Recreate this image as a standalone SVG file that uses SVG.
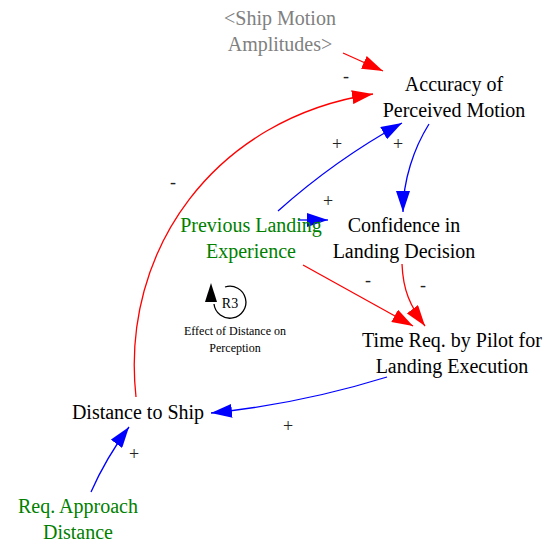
<svg xmlns="http://www.w3.org/2000/svg" width="547" height="544" viewBox="0 0 547 544" font-family="'Liberation Serif', serif">
  <style>
    text { font-family: 'Liberation Serif', serif; text-anchor: middle; }
    .node { font-size: 20px; fill: #000000; }
    .green { fill: #008000; }
    .gray { fill: #808080; }
    .pol { font-size: 18px; fill: #222222; }
    .loop { font-size: 12px; fill: #000000; }
    .red { fill: none; stroke: #ff0000; stroke-width: 1.3; marker-end: url(#headRed); }
    .blue { fill: none; stroke: #0000ff; stroke-width: 1.3; marker-end: url(#headBlue); }
  </style>
  <defs>
    <marker id="headRed" markerUnits="userSpaceOnUse" viewBox="0 0 21 14" markerWidth="21" markerHeight="14" refX="21" refY="7" orient="auto">
      <path d="M0,0 L21,7 L0,14 z" fill="#ff0000"/>
    </marker>
    <marker id="headBlue" markerUnits="userSpaceOnUse" viewBox="0 0 21 14" markerWidth="21" markerHeight="14" refX="21" refY="7" orient="auto">
      <path d="M0,0 L21,7 L0,14 z" fill="#0000ff"/>
    </marker>
  </defs>

  <!-- causal links -->
  <g id="connectors">
    <path class="red" d="M343,53 L383,71"/>
    <path class="red" d="M136,397 C120,250 215,118 373,94"/>
    <path class="blue" d="M278,211 Q335,160 402,123"/>
    <path class="blue" d="M429,124 C414,148 403,180 403,212"/>
    <path class="blue" d="M298,220 L328,220"/>
    <path class="red" d="M303,265 L413,326"/>
    <path class="red" d="M402,264 C403,290 410,306 425,326"/>
    <path class="blue" d="M387,377 Q300,404 211,413"/>
    <path class="blue" d="M91,492 Q106,458 129,427"/>
  </g>

  <!-- link polarities -->
  <g id="polarities">
    <text class="pol" x="346" y="82">-</text>
    <text class="pol" x="173" y="188">-</text>
    <text class="pol" x="337" y="150">+</text>
    <text class="pol" x="398" y="150">+</text>
    <text class="pol" x="328" y="207">+</text>
    <text class="pol" x="368" y="286">-</text>
    <text class="pol" x="423" y="291">-</text>
    <text class="pol" x="288" y="432">+</text>
    <text class="pol" x="134" y="460">+</text>
  </g>

  <g id="ship-motion-amplitudes">
    <text class="node gray" x="280" y="25">&lt;Ship Motion</text>
    <text class="node gray" x="280" y="51">Amplitudes&gt;</text>
  </g>
  <g id="accuracy-of-perceived-motion">
    <text class="node" x="454" y="91">Accuracy of</text>
    <text class="node" x="454" y="117">Perceived Motion</text>
  </g>
  <g id="previous-landing-experience">
    <text class="node green" x="251" y="232">Previous Landing</text>
    <text class="node green" x="251" y="258">Experience</text>
  </g>
  <g id="confidence-in-landing-decision">
    <text class="node" x="404" y="232">Confidence in</text>
    <text class="node" x="404" y="258">Landing Decision</text>
  </g>
  <g id="time-req-by-pilot">
    <text class="node" x="452" y="347">Time Req. by Pilot for</text>
    <text class="node" x="452" y="373">Landing Execution</text>
  </g>
  <g id="distance-to-ship">
    <text class="node" x="138" y="419">Distance to Ship</text>
  </g>
  <g id="req-approach-distance">
    <text class="node green" x="78" y="513">Req. Approach</text>
    <text class="node green" x="78" y="539">Distance</text>
  </g>

  <!-- reinforcing loop marker -->
  <g id="loop-r3">
    <path d="M225,287 A16,16 0 1,1 214,304" fill="none" stroke="#000000" stroke-width="1.3"/>
    <polygon points="205,302 217,302 211,283" fill="#000000"/>
    <text x="230" y="308" style="font-size:14px">R3</text>
    <text class="loop" x="235" y="335">Effect of Distance on</text>
    <text class="loop" x="235" y="352">Perception</text>
  </g>
</svg>
